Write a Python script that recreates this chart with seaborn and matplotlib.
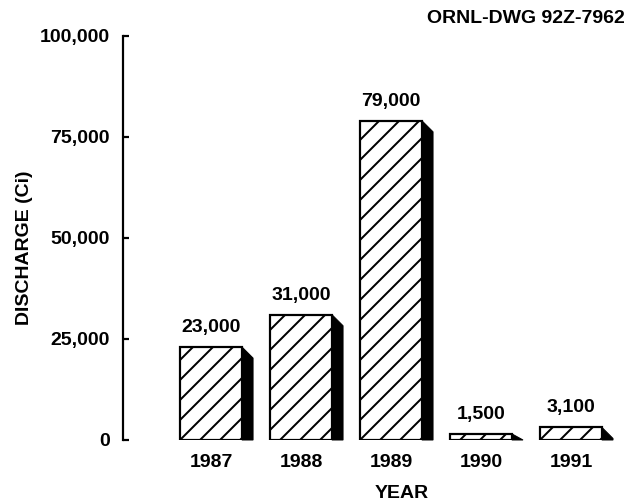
import matplotlib
matplotlib.use("Agg")
import matplotlib.pyplot as plt
import seaborn as sns
import pandas as pd
from matplotlib.patches import Polygon

years = ["1987", "1988", "1989", "1990", "1991"]
discharge = [23000, 31000, 79000, 1500, 3100]
value_labels = ["23,000", "31,000", "79,000", "1,500", "3,100"]
yticks = [0, 25000, 50000, 75000, 100000]
ytick_labels = ["0", "25,000", "50,000", "75,000", "100,000"]

DPI = 120
def pt(px):
    return px * 72.0 / DPI

sns.set_theme(style="white")
plt.rcParams["font.family"] = ["Liberation Sans", "DejaVu Sans"]
plt.rcParams["font.weight"] = "bold"
plt.rcParams["hatch.linewidth"] = pt(2.0)
plt.rcParams["hatch.color"] = "black"
for k in ["text.color", "axes.labelcolor", "xtick.color", "ytick.color"]:
    plt.rcParams[k] = "black"

FS = pt(19.5)

df = pd.DataFrame({"year": years, "discharge": discharge})

fig = plt.figure(figsize=(642/DPI, 503/DPI), dpi=DPI)
ax = fig.add_axes([123/642, 1-440/503, (630-123)/642, (440-36)/503])

sns.barplot(data=df, x="year", y="discharge", ax=ax, color="white",
            edgecolor="black", linewidth=pt(2.2), width=0.69, saturation=1)
for p in ax.patches:
    p.set_hatch("//")
    p.set_facecolor("white")

ax.set_xlim(-0.978, 4.656)
ax.set_ylim(0, 100000)

# shadow (3D side) computed from bar geometry
dx = 11/90.0
dy = 11*100000/404.0
for p, lab in zip(list(ax.patches), value_labels):
    x0 = p.get_x(); w = p.get_width(); h = p.get_height()
    xr = x0 + w
    bot = max(h - dy, 0)
    poly = Polygon([(xr, h), (xr + dx, bot), (xr + dx, 0), (xr, 0)],
                   closed=True, facecolor="black", edgecolor="black",
                   linewidth=pt(1), zorder=p.get_zorder() - 0.1, clip_on=False)
    ax.add_patch(poly)
    ax.annotate(lab, (x0 + w/2, h), xytext=(0, pt(11)), textcoords="offset points",
                ha="center", va="bottom", fontsize=FS, fontweight="bold")

ax.set_yticks(yticks)
ax.set_yticklabels(ytick_labels, fontsize=FS, fontweight="bold")
ax.tick_params(axis="y", direction="in", length=pt(6), width=pt(2.2), left=True, pad=pt(13))
ax.tick_params(axis="x", length=0, labelsize=FS, pad=pt(14))
for t in ax.get_xticklabels():
    t.set_fontweight("bold")

for s in ["top", "right", "bottom"]:
    ax.spines[s].set_visible(False)
ax.spines["left"].set_linewidth(pt(2.2))
ax.spines["left"].set_color("black")

ax.set_ylabel("")
ax.set_xlabel("")
fig.text(25/642, 1-248/503, "DISCHARGE (Ci)", rotation=90, ha="center", va="center",
         fontsize=FS, fontweight="bold")
fig.text(402/642, 1-493/503, "YEAR", ha="center", va="center",
         fontsize=FS, fontweight="bold")

fig.text(625/642, 1-18.5/503, "ORNL-DWG 92Z-7962", ha="right", va="center",
         fontsize=FS, fontweight="bold")

fig.savefig("out.png", dpi=DPI)
